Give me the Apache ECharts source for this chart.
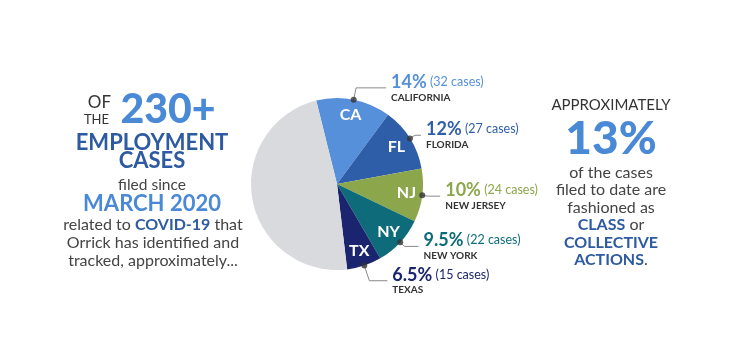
<!DOCTYPE html>
<html>
<head>
<meta charset="utf-8">
<script src="https://cdn.jsdelivr.net/npm/echarts@6/dist/echarts.min.js"></script>
<style>
html,body{margin:0;padding:0;background:#fff;}
#chart{width:740px;height:360px;}
</style>
</head>
<body>
<div id="chart"></div>
<script>
// ---- data ----
const states = ['CA', 'FL', 'NJ', 'NY', 'TX'];
const stateNames = ['CALIFORNIA', 'FLORIDA', 'NEW JERSEY', 'NEW YORK', 'TEXAS'];
const shares = [14, 12, 10, 9.5, 6.5];
const shareLabels = ['14%', '12%', '10%', '9.5%', '6.5%'];
const cases = [32, 27, 24, 22, 15];
const otherShare = 48;

// ---- styles ----
const colors = ['#5690da', '#2f5ea8', '#8ca64b', '#0e6c7a', '#1b246e'];
const otherColor = '#d9dadd';
const leaderLen = [12, 6, 6, 6, 16];
const leaderLen2 = [30, 6, 12, 14, 18];
const FONT = 'Lato';
const CENTER = [337, 184];
const R = 86;
const START = 104;

const pieData = states.map((s, i) => ({
  name: s, value: shares[i],
  itemStyle: { color: colors[i] },
  labelLine: { length: leaderLen[i], length2: leaderLen2[i] },
  label: {
    show: true,
    formatter: '{p|' + shareLabels[i] + '} {c|(' + cases[i] + ' cases)}\n{n|' + stateNames[i] + '}',
    rich: {
      p: { color: colors[i], fontSize: 18, fontWeight: 'bold', fontFamily: FONT, lineHeight: 19 },
      c: { color: colors[i], fontSize: 12.5, fontFamily: FONT, lineHeight: 19 },
      n: { color: '#333', fontSize: 10, fontWeight: 'bold', fontFamily: FONT, lineHeight: 12 }
    }
  }
}));
pieData.push({ name: 'Other', value: otherShare, itemStyle: { color: otherColor },
  label: { show: false }, labelLine: { show: false } });

const innerData = states.map((s, i) => ({ name: s, value: shares[i] }));
innerData.push({ name: '', value: otherShare, label: { show: false } });

// dot positions at each slice's middle angle (in percent units on the polar angle axis)
let acc = 0;
const dotData = shares.map(v => { const m = acc + v / 2; acc += v; return [1, m]; });

const chart = echarts.init(document.getElementById('chart'));
chart.setOption({
  backgroundColor: '#fff',
  animation: false,
  polar: { center: CENTER, radius: R },
  angleAxis: { type: 'value', min: 0, max: 100, startAngle: START, clockwise: true, show: false },
  radiusAxis: { type: 'value', min: 0, max: 1, show: false },
  series: [
    {
      type: 'pie', center: CENTER, radius: R, startAngle: START, clockwise: true,
      avoidLabelOverlap: false, silent: true, minShowLabelAngle: 0,
      label: { position: 'outside', distanceToLabelLine: 5, overflow: 'none' },
      labelLayout: { hideOverlap: false },
      labelLine: { show: true, lineStyle: { color: '#8a8a8a', width: 1 } },
      data: pieData, z: 2
    },
    {
      type: 'pie', center: CENTER, radius: [R * 0.56, R], startAngle: START, clockwise: true,
      silent: true, itemStyle: { color: 'rgba(0,0,0,0)' },
      label: { position: 'inside', color: '#fff', fontSize: 16, fontWeight: 'bold', fontFamily: FONT },
      labelLayout: { hideOverlap: false },
      labelLine: { show: false },
      data: innerData, z: 3
    },
    {
      type: 'scatter', coordinateSystem: 'polar', symbolSize: 6, silent: true,
      itemStyle: { color: '#333' }, data: dotData, z: 4
    }
  ],
  graphic: [
    // left block
    { type: 'text', style: { text: 'OF', x: 111, y: 103, textAlign: 'right', textVerticalAlign: 'middle', font: '17px ' + FONT, fill: '#333' } },
    { type: 'text', style: { text: 'THE', x: 109, y: 120, textAlign: 'right', textVerticalAlign: 'middle', font: '13px ' + FONT, fill: '#333' } },
    { type: 'text', style: { text: '230+', x: 168, y: 110, textAlign: 'center', textVerticalAlign: 'middle', font: '900 41px ' + FONT, fill: '#4a89d6' } },
    { type: 'text', style: { text: 'EMPLOYMENT', x: 152, y: 143, textAlign: 'center', textVerticalAlign: 'middle', font: 'bold 22px ' + FONT, fill: '#2d5aa0' } },
    { type: 'text', style: { text: 'CASES', x: 152, y: 161, textAlign: 'center', textVerticalAlign: 'middle', font: 'bold 22px ' + FONT, fill: '#2d5aa0' } },
    { type: 'text', style: { text: 'filed since', x: 152, y: 185, textAlign: 'center', textVerticalAlign: 'middle', font: '15.5px ' + FONT, fill: '#444' } },
    { type: 'text', style: { text: 'MARCH 2020', x: 152, y: 204, textAlign: 'center', textVerticalAlign: 'middle', font: 'bold 22px ' + FONT, fill: '#4a89d6' } },
    { type: 'text', style: { text: '{a|related to }{b|COVID-19}{a| that}', x: 153, y: 225, textAlign: 'center', textVerticalAlign: 'middle',
        rich: { a: { font: '16px ' + FONT, fill: '#444' }, b: { font: 'bold 16px ' + FONT, fill: '#2d5aa0' } } } },
    { type: 'text', style: { text: 'Orrick has identified and', x: 153, y: 243, textAlign: 'center', textVerticalAlign: 'middle', font: '16px ' + FONT, fill: '#444' } },
    { type: 'text', style: { text: 'tracked, approximately...', x: 153, y: 261, textAlign: 'center', textVerticalAlign: 'middle', font: '16px ' + FONT, fill: '#444' } },
    // right block
    { type: 'text', style: { text: 'APPROXIMATELY', x: 611, y: 105, textAlign: 'center', textVerticalAlign: 'middle', font: '15px ' + FONT, fill: '#333' } },
    { type: 'text', style: { text: '13%', x: 611, y: 139, textAlign: 'center', textVerticalAlign: 'middle', font: '900 46px ' + FONT, fill: '#4a89d6' } },
    { type: 'text', style: { text: 'of the cases', x: 611, y: 173, textAlign: 'center', textVerticalAlign: 'middle', font: '16px ' + FONT, fill: '#444' } },
    { type: 'text', style: { text: 'filed to date are', x: 611, y: 190, textAlign: 'center', textVerticalAlign: 'middle', font: '16px ' + FONT, fill: '#444' } },
    { type: 'text', style: { text: 'fashioned as', x: 611, y: 208, textAlign: 'center', textVerticalAlign: 'middle', font: '16px ' + FONT, fill: '#444' } },
    { type: 'text', style: { text: '{b|CLASS}{a| or}', x: 611, y: 225, textAlign: 'center', textVerticalAlign: 'middle',
        rich: { a: { font: '16px ' + FONT, fill: '#444' }, b: { font: 'bold 16px ' + FONT, fill: '#2d5aa0' } } } },
    { type: 'text', style: { text: 'COLLECTIVE', x: 611, y: 243, textAlign: 'center', textVerticalAlign: 'middle', font: 'bold 16px ' + FONT, fill: '#2d5aa0' } },
    { type: 'text', style: { text: '{b|ACTIONS}{a|.}', x: 611, y: 260, textAlign: 'center', textVerticalAlign: 'middle',
        rich: { a: { font: '16px ' + FONT, fill: '#444' }, b: { font: 'bold 16px ' + FONT, fill: '#2d5aa0' } } } }
  ]
});
</script>
</body>
</html>
